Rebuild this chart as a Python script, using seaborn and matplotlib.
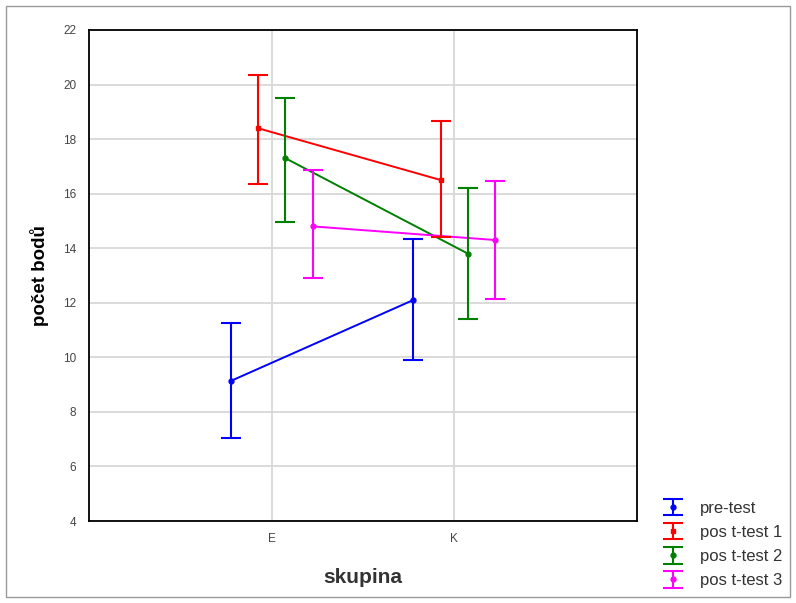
import numpy as np
import pandas as pd
import seaborn as sns
import matplotlib
matplotlib.use("Agg")
import matplotlib.pyplot as plt
from matplotlib.patches import Rectangle

groups = ["E", "K"]
series = ["pre-test", "post-test 1", "post-test 2", "post-test 3"]
legend_labels = ["pre-test", "pos t-test 1", "pos t-test 2", "pos t-test 3"]
means = {
    "pre-test":    [9.13, 12.1],
    "post-test 1": [18.4, 16.5],
    "post-test 2": [17.3, 13.8],
    "post-test 3": [14.8, 14.3],
}
lower = {
    "pre-test":    [7.05, 9.9],
    "post-test 1": [16.35, 14.4],
    "post-test 2": [14.95, 11.4],
    "post-test 3": [12.9, 12.15],
}
upper = {
    "pre-test":    [11.25, 14.35],
    "post-test 1": [20.35, 18.65],
    "post-test 2": [19.5, 16.2],
    "post-test 3": [16.85, 16.45],
}
colors = ["#0000ff", "#ff0000", "#008000", "#ff00ff"]
markers = ["o", "s", "o", "o"]

sns.set_style("white")
plt.rcParams["font.family"] = ["Liberation Sans", "DejaVu Sans"]

fig = plt.figure(figsize=(7.96, 6.03), dpi=100)
ax = fig.add_axes([89/796, 1-521/603, (637-89)/796, (521-30)/603])

offsets = [-0.225, -0.075, 0.075, 0.225]
rows = []
for s, off in zip(series, offsets):
    for i, g in enumerate(groups):
        rows.append({"serie": s, "x": i + off, "mean": means[s][i],
                     "lo": lower[s][i], "hi": upper[s][i]})
df = pd.DataFrame(rows)

sns.lineplot(data=df, x="x", y="mean", hue="serie", palette=colors,
             hue_order=series, ax=ax, legend=False, linewidth=1.4,
             estimator=None, sort=False)

handles = []
for s, c, m, lab in zip(series, colors, markers, legend_labels):
    d = df[df.serie == s]
    h = ax.errorbar(d["x"], d["mean"],
                    yerr=[d["mean"] - d["lo"], d["hi"] - d["mean"]],
                    fmt=m, color=c, ms=3.5, elinewidth=1.5, capsize=7,
                    capthick=1.5, linestyle="none", label=lab)
    handles.append(h)

ax.set_xlim(-1, 2)
ax.set_ylim(4, 22)
ax.set_xticks([0, 1])
ax.set_xticklabels(groups)
ax.set_yticks(np.arange(4, 23, 2))
ax.grid(True, color="#d8d8d8", linewidth=1.3)
ax.set_axisbelow(True)
for sp in ax.spines.values():
    sp.set_color("black")
    sp.set_linewidth(1.3)
ax.tick_params(axis="both", labelsize=8.5, labelcolor="#444444", length=0, pad=9)
ax.set_xlabel("skupina", fontsize=15, fontweight="bold", color="#333333", labelpad=16)
ax.set_ylabel("počet bodů", fontsize=13.5, fontweight="bold", color="black", labelpad=10)

fig.legend(handles=handles, labels=legend_labels, loc="upper left",
           bbox_to_anchor=(647/796, 1-494/603), frameon=False, fontsize=12,
           handlelength=2.3, handletextpad=0.5, labelspacing=0.55,
           borderaxespad=0, labelcolor="#333333")

fig.patches.append(Rectangle((6/796, 6/603), 784/796, 591/603,
                             transform=fig.transFigure, fill=False,
                             edgecolor="#999999", linewidth=1))

fig.savefig("out.png", dpi=100)
